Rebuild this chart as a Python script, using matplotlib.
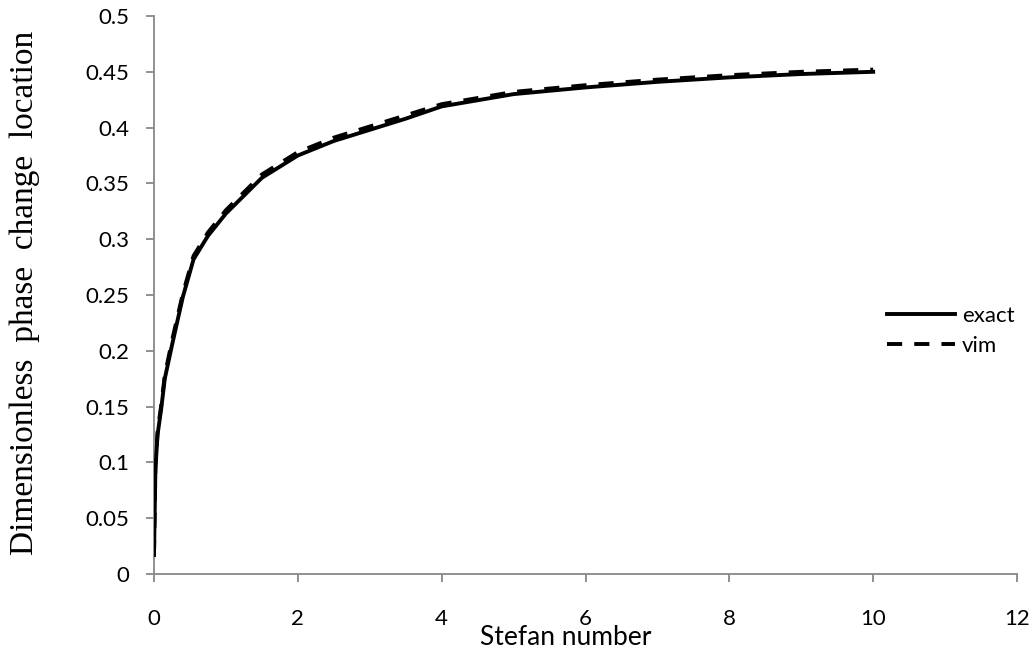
import matplotlib
matplotlib.use("Agg")
import matplotlib.pyplot as plt

# Stefan number vs dimensionless phase change location
stefan = [0.0, 0.02, 0.05, 0.1, 0.15, 0.25, 0.4, 0.55, 0.75, 1.0, 1.5, 2.0,
          2.5, 3.0, 3.5, 4.0, 5.0, 6.0, 7.0, 8.0, 9.0, 10.0]
exact = [0.017, 0.095, 0.125, 0.148, 0.175, 0.205, 0.248, 0.282, 0.303, 0.323,
         0.355, 0.375, 0.388, 0.398, 0.408, 0.419, 0.430, 0.436, 0.441, 0.445,
         0.448, 0.450]
vim = [0.017, 0.097, 0.128, 0.151, 0.178, 0.209, 0.251, 0.285, 0.306, 0.326,
       0.358, 0.378, 0.391, 0.401, 0.411, 0.421, 0.432, 0.438, 0.443, 0.447,
       0.450, 0.452]

x_ticks = [0, 2, 4, 6, 8, 10, 12]
y_ticks = [0, 0.05, 0.1, 0.15, 0.2, 0.25, 0.3, 0.35, 0.4, 0.45, 0.5]
y_tick_labels = ["0", "0.05", "0.1", "0.15", "0.2", "0.25", "0.3", "0.35",
                 "0.4", "0.45", "0.5"]

W, H = 1035, 653
AXIS_GREY = "#888888"

fig = plt.figure(figsize=(W / 100, H / 100), dpi=100)
# plot area: x=0 at px 154, x=12 at px 1017; y=0 at px 574, y=0.5 at px 16
ax = fig.add_axes([154 / W, (H - 574) / H, 863 / W, 558 / H])

ax.plot(stefan, vim, color="black", linewidth=2.8, linestyle=(0, (3.9, 3.1)),
        label="vim", zorder=2)
ax.plot(stefan, exact, color="black", linewidth=2.8, label="exact", zorder=3)

ax.set_xlim(0, 12)
ax.set_ylim(0, 0.5)
ax.set_xticks(x_ticks)
ax.set_yticks(y_ticks)
ax.set_yticklabels(y_tick_labels)

for side in ("top", "right"):
    ax.spines[side].set_visible(False)
for side in ("left", "bottom"):
    ax.spines[side].set_color(AXIS_GREY)
    ax.spines[side].set_linewidth(1.3)
ax.tick_params(axis="both", direction="out", length=5.5, width=1.3,
               color=AXIS_GREY, labelsize=16, labelcolor="black")
ax.tick_params(axis="x", pad=19.5)
ax.tick_params(axis="y", pad=12.5)
for lbl in ax.get_xticklabels() + ax.get_yticklabels():
    lbl.set_family("Lato")

fig.text(566 / W, (H - 645) / H, "Stefan number", family="Lato",
         fontsize=19, ha="center", va="baseline")
fig.text(33 / W, (H - 293) / H, "Dimensionless  phase  change  location",
         family="Liberation Serif", fontsize=24, rotation=90,
         rotation_mode="anchor", ha="center", va="baseline")

handles, labels = ax.get_legend_handles_labels()
leg = fig.legend(handles[::-1], labels[::-1], loc="center left",
                 bbox_to_anchor=(887 / W, (H - 331) / H), frameon=False,
                 borderpad=0, borderaxespad=0, handlelength=3.05,
                 handletextpad=0.32, labelspacing=0.45,
                 prop={"family": "Lato", "size": 16})

fig.savefig("out.png", dpi=100)
